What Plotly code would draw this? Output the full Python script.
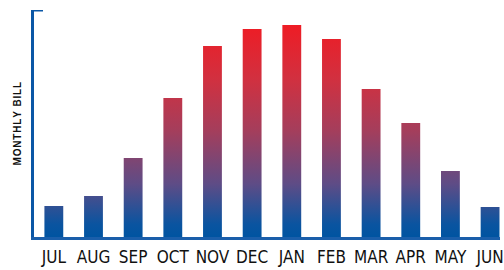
import plotly.graph_objects as go

months = ["JUL", "AUG", "SEP", "OCT", "NOV", "DEC", "JAN", "FEB", "MAR", "APR", "MAY", "JUN"]
bill = [31, 41, 79, 139, 191, 208, 212, 198, 148, 114, 66, 30]
y_max = 227
bar_width = 0.475

grad = [[0.0, "#0054a1"], [0.06, "#0a54a0"], [0.25, "#5e4c86"], [0.5, "#a43e5c"],
        [0.75, "#d2303f"], [1.0, "#ee1c25"]]

fig = go.Figure()
for i, (m, v) in enumerate(zip(months, bill)):
    x0, x1 = i - bar_width / 2, i + bar_width / 2
    fig.add_trace(go.Scatter(
        x=[x0, x0, x1, x1, x0], y=[0, v, v, 0, 0],
        mode="lines", line=dict(width=0), fill="toself",
        fillgradient=dict(type="vertical", colorscale=grad, start=0, stop=max(bill)),
        hoverinfo="text", text=f"{m}: {v}", showlegend=False, name=m,
    ))

hs = "\u200a"
title_text = hs.join("MONTHLY BILL")

fig.update_layout(
    width=504, height=270,
    margin=dict(l=34, r=0, t=10, b=33),
    paper_bgcolor="white", plot_bgcolor="white",
    xaxis=dict(
        range=[-0.5, -0.5 + 470 / 40], tickmode="array",
        tickvals=list(range(len(months))), ticktext=months,
        showgrid=False, zeroline=False, showline=True, linecolor="#1a5eaa", linewidth=3,
        ticks="", ticklabeloverflow="allow", ticklabelstandoff=3,
        tickfont=dict(family="Liberation Sans Narrow, DejaVu Sans Condensed, Arial Narrow",
                      size=17, color="#111111"),
        fixedrange=True,
    ),
    yaxis=dict(
        range=[0, y_max], showgrid=False, zeroline=False, showticklabels=False,
        showline=True, linecolor="#0b57a6", linewidth=3, ticks="", fixedrange=True,
    ),
    shapes=[dict(type="line", xref="x", xsizemode="pixel", xanchor=-0.5, x0=-9, x1=9,
                 yref="y", y0=y_max, y1=y_max, line=dict(color="#0b57a6", width=3))],
    annotations=[dict(text=f"<b>{title_text}</b>", xref="paper", yref="paper", x=0, y=0.5,
                      xanchor="center", yanchor="middle", xshift=-17, textangle=-90,
                      showarrow=False, font=dict(family="Arial, Liberation Sans", size=10, color="#111111"))],
)

fig.write_html("out.html", config={"displayModeBar": False},
               post_script="document.body.style.margin='0';")
